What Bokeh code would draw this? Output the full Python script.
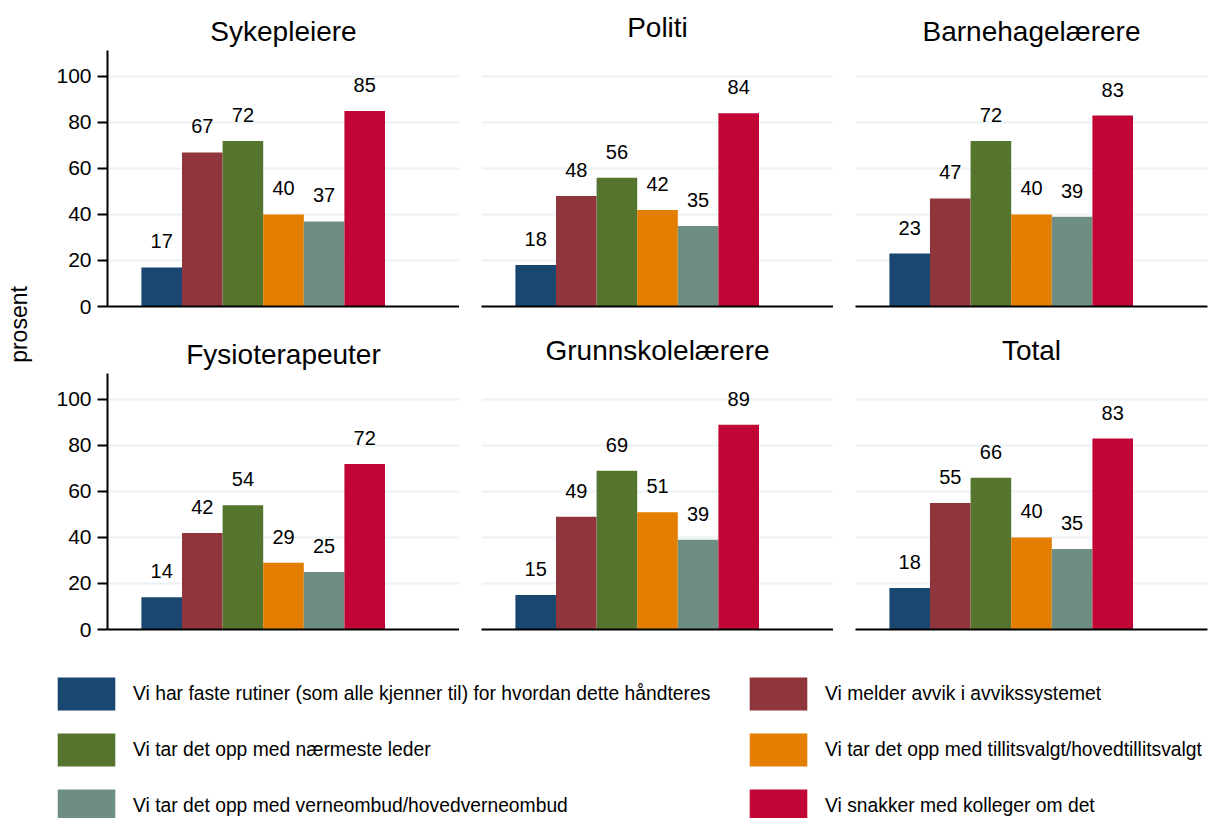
import math
from bokeh.plotting import figure
from bokeh.layouts import row, column
from bokeh.models import ColumnDataSource, Range1d, FixedTicker, Legend, LegendItem, Grid
from bokeh.embed import file_html
from bokeh.resources import INLINE
from bokeh.core.properties import value

# ---------------- data ----------------
groups = ["Sykepleiere", "Politi", "Barnehagelærere",
          "Fysioterapeuter", "Grunnskolelærere", "Total"]
series = [
    "Vi har faste rutiner (som alle kjenner til) for hvordan dette håndteres",
    "Vi melder avvik i avvikssystemet",
    "Vi tar det opp med nærmeste leder",
    "Vi tar det opp med tillitsvalgt/hovedtillitsvalgt",
    "Vi tar det opp med verneombud/hovedverneombud",
    "Vi snakker med kolleger om det",
]
colors = ["#1a476f", "#90353b", "#55752f", "#e37e00", "#6e8e84", "#c10534"]
sykepleiere = [17, 67, 72, 40, 37, 85]
politi = [18, 48, 56, 42, 35, 84]
barnehagelaerere = [23, 47, 72, 40, 39, 83]
fysioterapeuter = [14, 42, 54, 29, 25, 72]
grunnskolelaerere = [15, 49, 69, 51, 39, 89]
total = [18, 55, 66, 40, 35, 83]
y_ticks = [0, 20, 40, 60, 80, 100]
y_axis_title = "prosent"

values = [sykepleiere, politi, barnehagelaerere, fysioterapeuter, grunnskolelaerere, total]

# ---------------- style ----------------
FONT = "Liberation Sans"
FRAME_W, FRAME_H = 352, 256
LABEL_W = 36
GRID_COLOR = "#eaf2f3"


def make_panel(title, vals, col, rw):
    left = col == 0
    bl = 71 if left else 22
    br = 1 if col == 2 else 0
    bt = 50
    bb = 17 if rw == 0 else 40
    p = figure(width=bl + FRAME_W + br, height=bt + FRAME_H + bb,
               output_backend="svg", toolbar_location=None,
               x_range=Range1d(-1.335, 7.335), y_range=Range1d(0, 111.3),
               y_axis_location="left" if left else None,
               min_border_left=bl, min_border_right=br,
               min_border_top=bt, min_border_bottom=bb)
    p.outline_line_color = None
    p.background_fill_color = "white"
    p.border_fill_color = "white"
    p.center = [r for r in p.center if not isinstance(r, Grid)]
    p.add_layout(Grid(dimension=1, ticker=FixedTicker(ticks=y_ticks[1:]),
                      grid_line_color=GRID_COLOR, grid_line_width=2), "center")
    xa = p.xaxis[0]
    xa.ticker = FixedTicker(ticks=[])
    xa.axis_line_width = 2
    xa.axis_line_color = "black"
    xa.major_tick_out = 0
    xa.major_tick_in = 0
    xa.minor_tick_out = 0
    xa.major_label_text_font_size = "0px"
    if left:
        ya = p.yaxis[0]
        ya.ticker = FixedTicker(ticks=y_ticks)
        ya.axis_line_width = 2
        ya.axis_line_color = "black"
        ya.major_tick_out = 10
        ya.major_tick_in = 0
        ya.minor_tick_out = 0
        ya.minor_tick_in = 0
        ya.major_tick_line_width = 2
        ya.major_tick_line_color = "black"
        ya.major_label_standoff = 6
        ya.major_label_text_font = FONT
        ya.major_label_text_font_size = "21px"
        ya.major_label_text_color = "black"

    src = ColumnDataSource(dict(
        x=list(range(len(vals))),
        top=vals,
        color=colors,
        label=[str(v) for v in vals],
    ))
    p.vbar(x="x", top="top", bottom=0, width=1, fill_color="color",
           line_color=None, source=src)
    p.text(x="x", y="top", text="label", text_align="center",
           text_baseline="alphabetic", y_offset=-26,
           text_font=value(FONT), text_font_size="20px", text_color="black",
           source=src)

    has_desc = any(c in "gjpqy" for c in title)
    p.title.text = title
    p.title.align = "center"
    p.title.text_font = FONT
    p.title.text_font_size = "28px"
    p.title.text_font_style = "normal"
    p.title.text_color = "black"
    p.title.standoff = 8 if has_desc else 16
    return p


panels = [make_panel(g, v, i % 3, i // 3) for i, (g, v) in enumerate(zip(groups, values))]

# y-axis title figure
lab = figure(width=LABEL_W, height=648, output_backend="svg", toolbar_location=None,
             x_range=Range1d(0, 1), y_range=Range1d(0, 1),
             x_axis_location=None, y_axis_location=None,
             min_border=0)
lab.outline_line_color = None
lab.center = [r for r in lab.center if not isinstance(r, Grid)]
lab.text(x=[0.5], y=[0.5], text=[y_axis_title], angle=math.pi / 2,
         text_align="center", text_baseline="middle",
         text_font=value(FONT), text_font_size="23px", text_color="black")

# legend figure
LEG_H = 149
leg = figure(width=1208, height=LEG_H, output_backend="svg", toolbar_location=None,
             x_range=Range1d(0, 1), y_range=Range1d(0, 1),
             x_axis_location=None, y_axis_location=None, min_border=0)
leg.outline_line_color = None
leg.center = [r for r in leg.center if not isinstance(r, Grid)]
rends = [leg.vbar(x=[0], top=[0], bottom=0, width=0, fill_color=c, line_color=None)
         for c in colors]


def make_legend(idx, x):
    return Legend(items=[LegendItem(label=series[i], renderers=[rends[i]], index=0) for i in idx],
                  location=(x, -8), orientation="vertical",
                  glyph_width=72, glyph_height=41, spacing=15, label_standoff=11,
                  padding=0, margin=0, border_line_color=None,
                  background_fill_alpha=0,
                  label_text_font=FONT, label_text_font_size="19.3px",
                  label_text_color="black")


leg.add_layout(make_legend([0, 2, 4], 50), "center")
leg.add_layout(make_legend([1, 3, 5], 742), "center")

grid = column(row(panels[0], panels[1], panels[2]), row(panels[3], panels[4], panels[5]))
layout = column(row(lab, grid), leg)

open("out.html", "w").write(file_html(layout, INLINE))
